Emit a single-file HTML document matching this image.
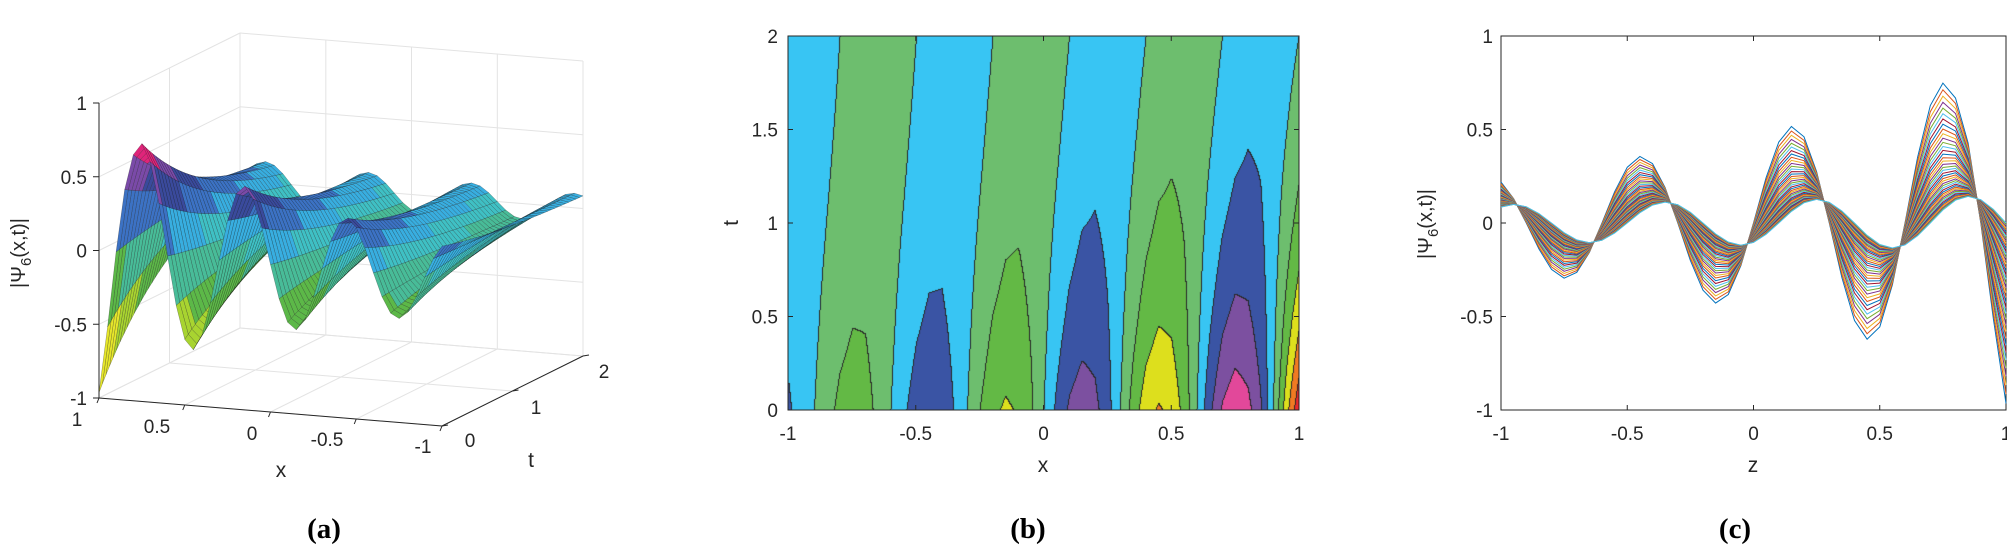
<!DOCTYPE html>
<html><head><meta charset="utf-8">
<style>
html,body{margin:0;padding:0;background:#fff;}
#wrap{position:relative;width:2007px;height:549px;overflow:hidden;}
svg{position:absolute;left:0;top:0;}
canvas{position:absolute;left:788px;top:36px;}
text{font-family:"Liberation Sans",sans-serif;fill:#262626;}
.cap{font-family:"Liberation Serif",serif;font-weight:bold;font-size:29px;fill:#000;}
</style></head>
<body><div id="wrap">
<canvas id="cv" width="511" height="374"></canvas>
<svg id="sv" width="2007" height="549" xmlns="http://www.w3.org/2000/svg"></svg>
</div>
<script>
function a0(x){return 0.47*Math.exp(0.62*x)+(x>0.8?(x-0.8)*1.2:0);}
function a2(x){return 0.12*Math.exp(0.2*x);}
function W(t){var k=0.9;return (Math.exp(-k*t)-Math.exp(-2*k))/(1-Math.exp(-2*k));}
function f(x,t){var w=W(t);
 var c0=a0(x)*Math.sin(2*Math.PI*(x-0.6)/0.6);
 var c2=a2(x)*Math.sin(2*Math.PI*(x-0.7)/0.6);
 return w*c0+(1-w)*c2;}
var NS="http://www.w3.org/2000/svg",sv=document.getElementById('sv');
function el(n,a,txt){var e=document.createElementNS(NS,n);for(var k in a)e.setAttribute(k,a[k]);if(txt!==undefined)e.textContent=txt;sv.appendChild(e);return e;}
function line(x1,y1,x2,y2,c,w){el('line',{x1:x1,y1:y1,x2:x2,y2:y2,stroke:c,'stroke-width':w||1});}
function txt(x,y,s,anchor,size){return el('text',{x:x,y:y,'text-anchor':anchor||'middle','font-size':size||19},s);}
function psiLabel(x,y){var t=el('text',{x:x,y:y,'font-size':20,'text-anchor':'middle',transform:'rotate(-90 '+x+' '+y+')'});
 t.innerHTML='|Ψ<tspan font-size="15" dy="6">6</tspan><tspan dy="-6">(x,t)|</tspan>';}

/* ---------- panel (b) contour ---------- */
var cols=['#E8282B','#F07A22','#DDDF1D','#63B945','#6DBE6E','#38C5F3','#3A54A4','#7C50A0','#E2489A'];
function lev(v){var i=Math.floor((v+1)/0.2);return Math.max(0,Math.min(8,i));}
var cv=document.getElementById('cv'),ctx=cv.getContext('2d');
var Wd=511,Hd=374,L=[];
var G=[];
for(var j=0;j<41;j++){G[j]=[];for(var i=0;i<41;i++)G[j][i]=f(-1+i*0.05,j*0.05);}
function fg(x,t){var u=(x+1)/0.05,v=t/0.05;var i=Math.min(39,Math.floor(u)),j=Math.min(39,Math.floor(v));var a=u-i,b=v-j;
 return (1-a)*(1-b)*G[j][i]+a*(1-b)*G[j][i+1]+(1-a)*b*G[j+1][i]+a*b*G[j+1][i+1];}
for(var py=0;py<Hd;py++){L[py]=[];for(var px=0;px<Wd;px++){var x=-1+2*px/(Wd-1),t=2*(Hd-1-py)/(Hd-1);L[py][px]=lev(fg(x,t));}}
var img=ctx.createImageData(Wd,Hd);
function hex(c){return [parseInt(c.substr(1,2),16),parseInt(c.substr(3,2),16),parseInt(c.substr(5,2),16)];}
var rgb=cols.map(hex);
for(var py=0;py<Hd;py++)for(var px=0;px<Wd;px++){var l=L[py][px],c=rgb[l];
 var edge=(px>0&&L[py][px-1]!=l)||(py>0&&L[py-1][px]!=l);
 if(edge)c=[40,40,40];
 var k=4*(py*Wd+px);img.data[k]=c[0];img.data[k+1]=c[1];img.data[k+2]=c[2];img.data[k+3]=255;}
ctx.putImageData(img,0,0);
el('rect',{x:788,y:36,width:511,height:374,fill:'none',stroke:'#262626','stroke-width':1});
var bx0=788,bx1=1299,by0=36,by1=410;
[-1,-0.5,0,0.5,1].forEach(function(v){var X=bx0+(v+1)/2*(bx1-bx0);line(X,by1,X,by1-5,'#262626');line(X,by0,X,by0+5,'#262626');txt(X,440,String(v));});
[0,0.5,1,1.5,2].forEach(function(v){var Y=by1-v/2*(by1-by0);line(bx0,Y,bx0+5,Y,'#262626');line(bx1,Y,bx1-5,Y,'#262626');txt(778,Y+7,String(v),'end');});
txt(1043,472,'x','middle',21);
el('text',{x:738,y:223,'font-size':21,'text-anchor':'middle',transform:'rotate(-90 738 223)'},'t');
el('text',{x:1028,y:538,'text-anchor':'middle','class':'cap'},'(b)');

/* ---------- panel (c) lines ---------- */
var cx0=1501,cx1=2006,cy0=36,cy1=410;
el('rect',{x:cx0,y:cy0,width:cx1-cx0,height:cy1-cy0,fill:'none',stroke:'#262626','stroke-width':1});
var mc=['#0072BD','#D95319','#EDB120','#7E2F8E','#77AC30','#4DBEEE','#A2142F'];
var g=el('g',{});
for(var k=0;k<=40;k++){var t=k*0.05,pts=[];
 for(var i=0;i<=40;i++){var x=-1+i*0.05,v=f(x,t);pts.push((cx0+(x+1)/2*(cx1-cx0)).toFixed(1)+','+(cy1-(v+1)/2*(cy1-cy0)).toFixed(1));}
 var p=document.createElementNS(NS,'polyline');p.setAttribute('points',pts.join(' '));p.setAttribute('fill','none');p.setAttribute('stroke',mc[k%7]);p.setAttribute('stroke-width','1');g.appendChild(p);}
[-1,-0.5,0,0.5,1].forEach(function(v){var X=cx0+(v+1)/2*(cx1-cx0);line(X,cy1,X,cy1-5,'#262626');line(X,cy0,X,cy0+5,'#262626');txt(X,440,String(v));});
[-1,-0.5,0,0.5,1].forEach(function(v){var Y=cy1-(v+1)/2*(cy1-cy0);line(cx0,Y,cx0+5,Y,'#262626');txt(1493,Y+7,String(v),'end');});
txt(1753,472,'z','middle',21);
psiLabel(1432,224);
el('text',{x:1735,y:538,'text-anchor':'middle','class':'cap'},'(c)');

/* ---------- panel (a) 3D ---------- */
function P(x,t,z){return [99+(1-x)/2*343+t/2*141, 398+(1-x)/2*28-t/2*70-(z+1)/2*295];}
function seg(a,b,c,w){line(a[0].toFixed(1),a[1].toFixed(1),b[0].toFixed(1),b[1].toFixed(1),c,w);}
var gc='#e3e3e3';
[-1,-0.5,0,0.5,1].forEach(function(z){seg(P(1,2,z),P(-1,2,z),gc);seg(P(1,0,z),P(1,2,z),gc);});
[1,0.5,0,-0.5,-1].forEach(function(x){seg(P(x,2,-1),P(x,2,1),gc);seg(P(x,0,-1),P(x,2,-1),gc);});
[0,1,2].forEach(function(t){seg(P(1,t,-1),P(1,t,1),gc);seg(P(1,t,-1),P(-1,t,-1),gc);});
function c3(z){
 if(z>0.6)return '#e0247a'; if(z>0.45)return '#7a4aa8'; if(z>0.3)return '#3a4a9c';
 if(z>0.15)return '#3c72c4'; if(z>0.05)return '#38aee0'; if(z>-0.05)return '#3fc0c4';
 if(z>-0.2)return '#48bc98'; if(z>-0.4)return '#5cb848'; if(z>-0.6)return '#a8d430'; return '#e6e62a';}
var quads=[];var st=0.05;
for(var j=0;j<40;j++)for(var i=0;i<40;i++){
 var x0=-1+i*st,x1=x0+st,t0=j*st,t1=t0+st;
 var z00=G[j][i],z10=G[j][i+1],z01=G[j+1][i],z11=G[j+1][i+1];
 var zm=(z00+z10+z01+z11)/4;
 var d=P((x0+x1)/2,(t0+t1)/2,-1)[1];
 quads.push({d:d,pts:[P(x0,t0,z00),P(x1,t0,z10),P(x1,t1,z11),P(x0,t1,z01)],c:c3(zm)});}
quads.sort(function(a,b){return a.d-b.d;});
var sg=el('g',{});
quads.forEach(function(q){var p=document.createElementNS(NS,'polygon');
 p.setAttribute('points',q.pts.map(function(a){return a[0].toFixed(1)+','+a[1].toFixed(1);}).join(' '));
 p.setAttribute('fill',q.c);p.setAttribute('stroke','#1a1a1a');p.setAttribute('stroke-width','0.4');p.setAttribute('stroke-opacity','0.55');sg.appendChild(p);});
var ac='#262626';
seg(P(1,0,-1),P(1,0,1),ac);seg(P(1,0,-1),P(-1,0,-1),ac);seg(P(-1,0,-1),P(-1,2,-1),ac);
[-1,-0.5,0,0.5,1].forEach(function(z){var a=P(1,0,z);line(a[0],a[1],a[0]-6,a[1],ac);txt(a[0]-12,a[1]+7,String(z),'end');});
var xl={'1':[77,426],'0.5':[157,433],'0':[252,440],'-0.5':[327,446],'-1':[423,453]};
[1,0.5,0,-0.5,-1].forEach(function(x){var a=P(x,0,-1);line(a[0],a[1],a[0]-2,a[1]+5,ac);var q=xl[String(x)];txt(q[0],q[1],String(x));});
var tl=[[470,447],[536,414],[604,378]];
[0,1,2].forEach(function(t,k){var a=P(-1,t,-1);line(a[0],a[1],a[0]+6,a[1]-1,ac);txt(tl[k][0],tl[k][1],String(t));});
txt(281,477,'x','middle',21);txt(531,467,'t','middle',21);
psiLabel(25,253);
el('text',{x:324,y:538,'text-anchor':'middle','class':'cap'},'(a)');
</script>
</body></html>
